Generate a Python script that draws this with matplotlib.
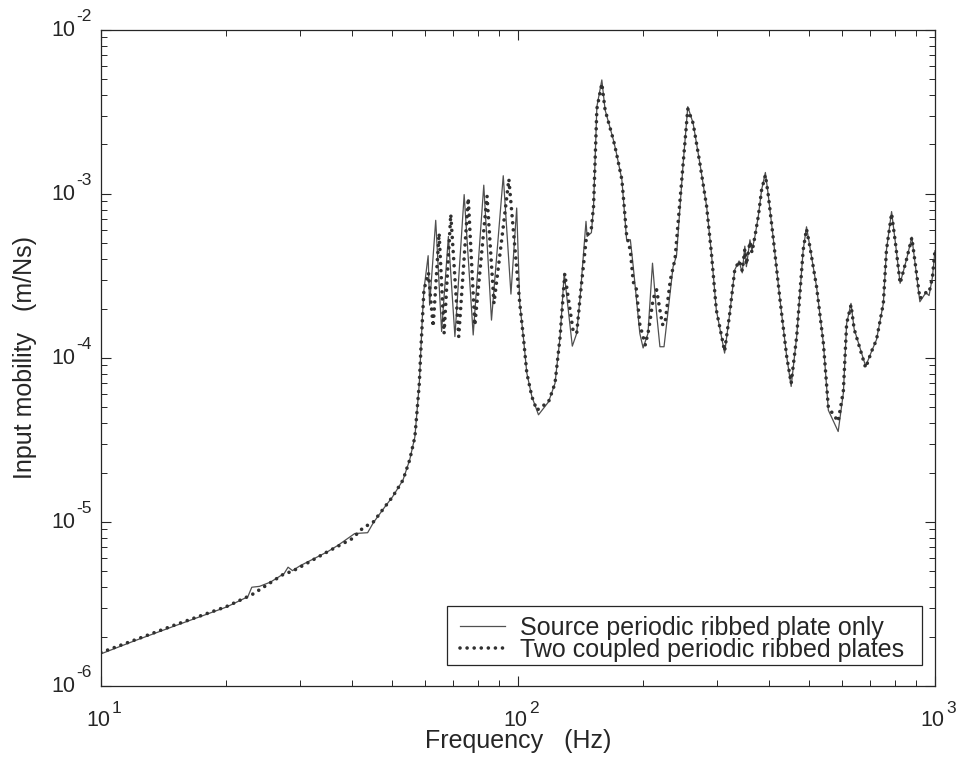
import matplotlib
matplotlib.use("Agg")
import matplotlib.pyplot as plt
from matplotlib.patches import Rectangle
from matplotlib.ticker import LogLocator, NullFormatter

plt.rcParams['font.family'] = ['Liberation Sans', 'DejaVu Sans']

# Source periodic ribbed plate only (frequency in Hz, mobility in m/Ns)
freq_source = [10, 12, 15, 20, 22.5, 23, 24, 25.5, 27.5, 28.1, 28.8, 30, 35, 37, 40.6,
               43.6, 45, 48, 50, 53, 55, 56.6, 57.3, 58, 58.5, 59, 59.5, 60.9, 61.4,
               63.5, 65.6, 68.1, 70.6, 74.3, 78.1, 82.8, 86.4, 92.2, 96.2, 99.3, 101,
               103, 105, 108, 112, 118.4, 122.7, 126.2, 129.1, 135, 138.3, 141, 145.6,
               146.5, 150, 151.8, 154.6, 158.9, 161.8, 169.4, 172, 177.5, 182.2, 186,
               189, 196, 199.6, 205, 210.2, 215, 219, 224, 235.5, 240, 249, 255.4, 263,
               273, 283.4, 291, 299, 313, 322, 331, 339, 345, 350, 353, 360, 364, 370,
               377, 384, 392, 398, 409, 425, 441, 452, 466, 483, 492, 501, 520, 540,
               555, 586, 603, 614, 629, 640, 682, 705, 724, 752, 765, 787, 804, 825,
               855, 880, 920, 951, 968, 986, 1000]
mob_source = [1.57e-6, 1.88e-6, 2.32e-6, 3.03e-6, 3.5e-6, 4.0e-6, 4.05e-6, 4.3e-6,
              4.85e-6, 5.3e-6, 5.05e-6, 5.4e-6, 6.6e-6, 7.2e-6, 8.5e-6,
              8.6e-6, 9.9e-6, 1.24e-5, 1.42e-5, 1.8e-5, 2.39e-5, 3.3e-5, 4.8e-5, 7.0e-5,
              1.12e-4, 1.79e-4, 2.6e-4, 4.2e-4, 2.1e-4,
              6.9e-4, 1.45e-4, 5.5e-4, 1.35e-4, 9.9e-4, 1.38e-4, 1.13e-3, 1.7e-4,
              1.29e-3, 2.45e-4, 8.2e-4, 2.15e-4,
              1.35e-4, 8.1e-5, 5.8e-5, 4.5e-5, 5.4e-5, 7.0e-5, 1.35e-4, 3.28e-4, 1.18e-4,
              1.41e-4, 2.37e-4, 6.8e-4,
              5.5e-4, 5.8e-4, 8.4e-4, 3.4e-3, 4.95e-3, 3.25e-3, 2.13e-3, 1.8e-3, 1.22e-3,
              5.25e-4, 5.25e-4,
              3.6e-4, 1.41e-4, 1.15e-4, 1.41e-4, 3.78e-4, 1.87e-4, 1.17e-4, 1.17e-4,
              3.6e-4, 4.2e-4, 1.54e-3, 3.4e-3, 2.7e-3,
              1.54e-3, 8.4e-4, 4.35e-4, 1.96e-4, 1.07e-4, 1.87e-4, 3.44e-4, 3.9e-4,
              3.3e-4, 4.8e-4, 3.6e-4, 5.25e-4, 4.5e-4, 5.5e-4,
              7.3e-4, 1.06e-3, 1.35e-3, 1.0e-3, 5.5e-4, 2.26e-4, 1.02e-4, 6.7e-5,
              1.35e-4, 4.55e-4, 6.3e-4, 4.8e-4, 2.72e-4, 1.23e-4,
              4.8e-5, 3.56e-5, 6.1e-5, 1.62e-4, 2.15e-4, 1.5e-4, 8.9e-5, 1.1e-4, 1.29e-4,
              2.15e-4, 4.55e-4, 7.8e-4, 5.0e-4, 2.85e-4,
              4.0e-4, 5.45e-4, 2.2e-4, 2.5e-4, 2.4e-4, 3.1e-4, 4.5e-4]

# Two coupled periodic ribbed plates
freq_coupled = [10, 12, 15, 20, 23, 27.6, 28.6, 30, 35, 40, 42.5, 45, 48, 50, 53, 55,
                56.6, 57.3, 58, 58.5, 59.5, 61, 62.6, 64.7, 66.5, 69.0, 72.1, 76.0, 78.8,
                84.3, 87.6, 92.2, 95.1, 101, 103, 105, 108, 111, 118.4, 122.7, 126.2,
                129.5, 135.5, 138.3, 141, 146, 150, 151.8, 154.6, 158.9, 161.8, 169.4,
                172, 177.5, 182.2, 186, 189, 192, 196, 202, 206, 211, 215, 219, 222, 225,
                232, 238, 249, 255.4, 263, 273, 283.4, 291, 299, 313, 322, 331, 339, 345,
                350, 353, 360, 364, 370, 377, 384, 392, 398, 409, 425, 441, 452, 466,
                483, 492, 501, 520, 540, 555, 586, 603, 614, 629, 640, 682, 705, 724,
                752, 765, 787, 804, 825, 855, 880, 920, 951, 968, 986, 1000]
mob_coupled = [1.6e-6, 1.9e-6, 2.35e-6, 3.05e-6, 3.6e-6, 4.86e-6, 4.97e-6, 5.3e-6,
               6.6e-6, 7.9e-6, 9.2e-6, 1.0e-5, 1.24e-5, 1.42e-5, 1.8e-5, 2.39e-5,
               3.3e-5, 4.8e-5, 7.0e-5, 1.12e-4, 2.6e-4, 3.3e-4, 1.55e-4, 5.75e-4,
               1.41e-4, 7.5e-4, 1.35e-4, 9.4e-4, 1.58e-4,
               9.7e-4, 2.15e-4, 6.3e-4, 1.23e-3, 2.15e-4, 1.35e-4, 8.1e-5, 5.8e-5,
               4.8e-5, 5.4e-5, 7.0e-5, 1.35e-4,
               3.25e-4, 1.48e-4, 1.41e-4, 2.37e-4, 5.5e-4, 6.2e-4, 8.4e-4, 3.3e-3,
               4.7e-3, 3.25e-3, 2.13e-3,
               1.8e-3, 1.22e-3, 5.6e-4, 4.5e-4, 2.9e-4, 2.7e-4, 1.6e-4, 1.2e-4, 1.5e-4,
               2.3e-4, 2.6e-4, 1.96e-4, 1.6e-4, 1.6e-4,
               3.0e-4, 4.0e-4, 1.54e-3, 3.3e-3, 2.7e-3, 1.54e-3, 8.4e-4, 4.35e-4,
               1.96e-4, 1.1e-4, 1.87e-4, 3.44e-4, 3.9e-4, 3.4e-4,
               4.6e-4, 3.7e-4, 5.1e-4, 4.4e-4, 5.5e-4, 7.3e-4, 1.06e-3, 1.3e-3, 1.0e-3,
               5.5e-4, 2.26e-4, 1.02e-4, 7.0e-5, 1.35e-4,
               4.55e-4, 6.1e-4, 4.8e-4, 2.72e-4, 1.23e-4, 5.0e-5, 4.1e-5, 6.3e-5,
               1.62e-4, 2.1e-4, 1.5e-4, 8.7e-5, 1.1e-4, 1.29e-4,
               2.15e-4, 4.55e-4, 7.6e-4, 5.0e-4, 2.85e-4, 4.0e-4, 5.4e-4, 2.3e-4,
               2.5e-4, 2.5e-4, 3.1e-4, 4.5e-4]

# Decade tick positions, labelled as 10 with a raised exponent
x_exponents = [1, 2, 3]
y_exponents = [-6, -5, -4, -3, -2]

text_color = '#262626'
base_size = 15.5
exp_size = 12.5

fig = plt.figure(figsize=(9.56, 7.67), dpi=100)
ax = fig.add_axes([0.1056, 0.1056, 0.8724, 0.8555])

ax.loglog(freq_source, mob_source, color='#505050', lw=0.9,
          label='Source periodic ribbed plate only')
ax.loglog(freq_coupled, mob_coupled, color='#303030', lw=2.6,
          linestyle=(0, (0.01, 1.95)), dash_capstyle='round',
          label='Two coupled periodic ribbed plates')

ax.set_xlim(10, 1000)
ax.set_ylim(1e-6, 1e-2)

for axis in (ax.xaxis, ax.yaxis):
    axis.set_major_locator(LogLocator(base=10))
    axis.set_minor_locator(LogLocator(base=10, subs=range(2, 10)))
    axis.set_major_formatter(NullFormatter())
    axis.set_minor_formatter(NullFormatter())

ax.tick_params(which='both', direction='in', top=True, right=True, colors=text_color)
ax.tick_params(which='major', length=7.5, width=0.8)
ax.tick_params(which='minor', length=4.5, width=0.7)
for s in ax.spines.values():
    s.set_color(text_color)
    s.set_linewidth(0.9)

# x tick labels
for e in x_exponents:
    v = 10.0 ** e
    ax.annotate('10', xy=(v, 0), xycoords=('data', 'axes fraction'),
                xytext=(9, -40), textcoords='offset pixels',
                ha='right', va='baseline', fontsize=base_size, color=text_color,
                annotation_clip=False)
    ax.annotate(str(e), xy=(v, 0), xycoords=('data', 'axes fraction'),
                xytext=(11, -27), textcoords='offset pixels',
                ha='left', va='baseline', fontsize=exp_size, color=text_color,
                annotation_clip=False)

# y tick labels
for e in y_exponents:
    v = 10.0 ** e
    ax.annotate('10', xy=(0, v), xycoords=('axes fraction', 'data'),
                xytext=(-26, -6), textcoords='offset pixels',
                ha='right', va='baseline', fontsize=base_size, color=text_color,
                annotation_clip=False)
    ax.annotate(str(e), xy=(0, v), xycoords=('axes fraction', 'data'),
                xytext=(-25, 9), textcoords='offset pixels',
                ha='left', va='baseline', fontsize=exp_size, color=text_color,
                annotation_clip=False)

ax.set_xlabel('Frequency   (Hz)', fontsize=18, color=text_color)
ax.set_ylabel('Input mobility   (m/Ns)', fontsize=18, color=text_color)
ax.xaxis.set_label_coords(0.5, -0.066)
ax.yaxis.set_label_coords(-0.077, 0.5)

# legend: entries without their own frame, boxed by a plain rectangle
leg = ax.legend(loc='center left', bbox_to_anchor=(0.4305, 0.0716), borderaxespad=0,
                fontsize=18, frameon=False, handlelength=1.8, handletextpad=0.6,
                borderpad=0, labelspacing=-0.07, labelcolor=text_color)
ax.add_patch(Rectangle((0.4149, 0.032), 0.5695, 0.090, transform=ax.transAxes,
                       facecolor='white', edgecolor=text_color, linewidth=0.9,
                       zorder=4.9))
leg.set_zorder(5)

fig.savefig('out.png', dpi=100)
